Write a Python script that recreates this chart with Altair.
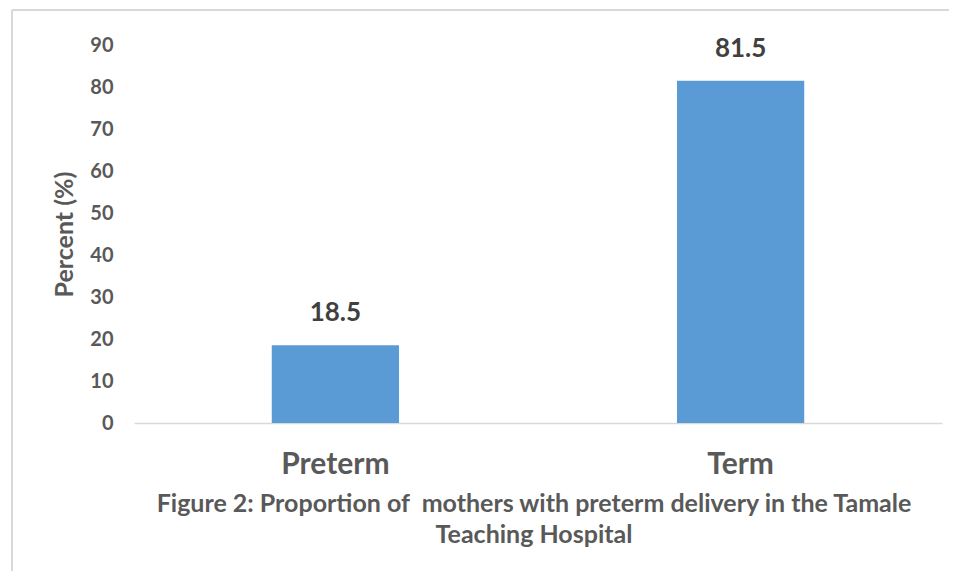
import altair as alt
import pandas as pd

categories = ["Preterm", "Term"]
percents = [18.5, 81.5]
y_ticks = [0, 10, 20, 30, 40, 50, 60, 70, 80, 90]
title_lines = ["Figure 2: Proportion of \u00a0mothers with preterm delivery in the Tamale",
               "Teaching Hospital"]

df = pd.DataFrame({"cat": categories, "pct": percents})
FONT = "Lato"
GREY = "#595959"

x_enc = alt.X("cat:N", sort=categories, title=None,
              scale=alt.Scale(paddingInner=0.686, paddingOuter=0.34),
              axis=alt.Axis(labelAngle=0, labelFontSize=30, labelFontWeight="bold",
                            labelColor=GREY, labelFont=FONT, ticks=False,
                            domainColor="#D9D9D9", domainWidth=1.5,
                            labelPadding=26, labelBaseline="top"))
y_enc = alt.Y("pct:Q", title="Percent (%)",
              scale=alt.Scale(domain=[0, 90], nice=False),
              axis=alt.Axis(values=y_ticks, grid=False, domain=False, ticks=False,
                            labelFontSize=20, labelFontWeight="bold", labelColor=GREY,
                            labelFont=FONT, labelPadding=21,
                            titleFontSize=25, titleFontWeight="bold", titleColor=GREY,
                            titleFont=FONT, titlePadding=12))

bars = alt.Chart(df).mark_bar(color="#5B9BD5").encode(x=x_enc, y=y_enc)
labels = alt.Chart(df).mark_text(dy=-19, baseline="bottom", fontSize=26,
                                 fontWeight="bold", color="#404040", font=FONT).encode(
    x=alt.X("cat:N", sort=categories), y="pct:Q", text=alt.Text("pct:Q", format=".1f"))

title_text = alt.Chart(df.head(1)).mark_text(
    text=title_lines, fontSize=25, fontWeight="bold", color=GREY, font=FONT,
    align="center", baseline="middle", lineHeight=31, clip=False).encode(
    x=alt.value(400), y=alt.value(459))

border_top = alt.Chart(df.head(1)).mark_rule(color="#D9D9D9", strokeWidth=2, clip=False).encode(
    x=alt.value(-122), x2=alt.value(830), y=alt.value(-35))
border_left = alt.Chart(df.head(1)).mark_rule(color="#D9D9D9", strokeWidth=2, clip=False).encode(
    x=alt.value(-122), y=alt.value(-35), y2=alt.value(540))

chart = alt.layer(border_top, border_left, bars, labels, title_text).properties(
    width=808, height=378,
    autosize=alt.AutoSizeParams(type="none"),
    padding={"left": 126, "top": 37, "right": 7, "bottom": 148},
).configure_view(stroke=None)

chart.save("out.html", embed_options={"renderer": "svg", "actions": False})
